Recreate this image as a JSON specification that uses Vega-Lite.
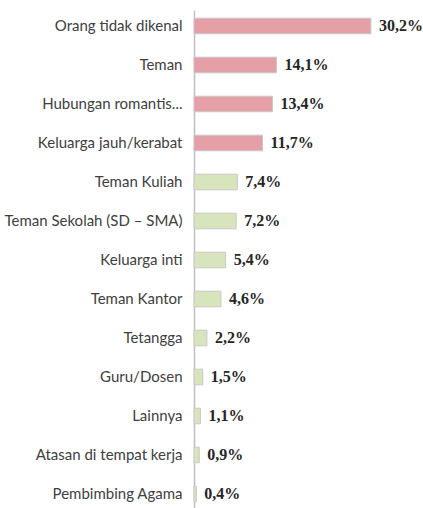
{
  "$schema": "https://vega.github.io/schema/vega-lite/v6.json",
  "autosize": "none",
  "width": 205,
  "height": 500,
  "padding": {"left": 194, "top": 10, "right": 24, "bottom": 0},
  "background": "white",
  "config": {"view": {"stroke": null}},
  "data": {"values": [
    {"category": "Orang tidak dikenal", "value": 30.2, "label": "30,2%", "group": "top"},
    {"category": "Teman", "value": 14.1, "label": "14,1%", "group": "top"},
    {"category": "Hubungan romantis...", "value": 13.4, "label": "13,4%", "group": "top"},
    {"category": "Keluarga jauh/kerabat", "value": 11.7, "label": "11,7%", "group": "top"},
    {"category": "Teman Kuliah", "value": 7.4, "label": "7,4%", "group": "rest"},
    {"category": "Teman Sekolah (SD – SMA)", "value": 7.2, "label": "7,2%", "group": "rest"},
    {"category": "Keluarga inti", "value": 5.4, "label": "5,4%", "group": "rest"},
    {"category": "Teman Kantor", "value": 4.6, "label": "4,6%", "group": "rest"},
    {"category": "Tetangga", "value": 2.2, "label": "2,2%", "group": "rest"},
    {"category": "Guru/Dosen", "value": 1.5, "label": "1,5%", "group": "rest"},
    {"category": "Lainnya", "value": 1.1, "label": "1,1%", "group": "rest"},
    {"category": "Atasan di tempat kerja", "value": 0.9, "label": "0,9%", "group": "rest"},
    {"category": "Pembimbing Agama", "value": 0.4, "label": "0,4%", "group": "rest"}
  ]},
  "encoding": {
    "y": {
      "field": "category", "type": "nominal", "sort": null,
      "scale": {"paddingInner": 0.6, "paddingOuter": 0.21},
      "axis": {
        "title": null, "ticks": false, "domain": true,
        "domainColor": "#BFBFBF", "domainWidth": 1.5,
        "labelPadding": 12, "labelFontSize": 15,
        "labelFont": "Lato",
        "labelColor": "#404040", "labelLimit": 220
      }
    },
    "x": {
      "field": "value", "type": "quantitative",
      "scale": {"domain": [0, 35], "nice": false},
      "axis": null
    }
  },
  "layer": [
    {
      "mark": {"type": "bar", "stroke": "#C8C8C8", "strokeWidth": 1},
      "encoding": {
        "color": {
          "field": "group", "type": "nominal",
          "scale": {"domain": ["top", "rest"], "range": ["#E59FA6", "#D8E4BC"]},
          "legend": null
        }
      }
    },
    {
      "mark": {
        "type": "text", "align": "left", "baseline": "middle", "dx": 8,
        "font": "Liberation Serif", "fontWeight": "bold", "fontSize": 16,
        "color": "#262626"
      },
      "encoding": {"text": {"field": "label"}}
    }
  ]
}
